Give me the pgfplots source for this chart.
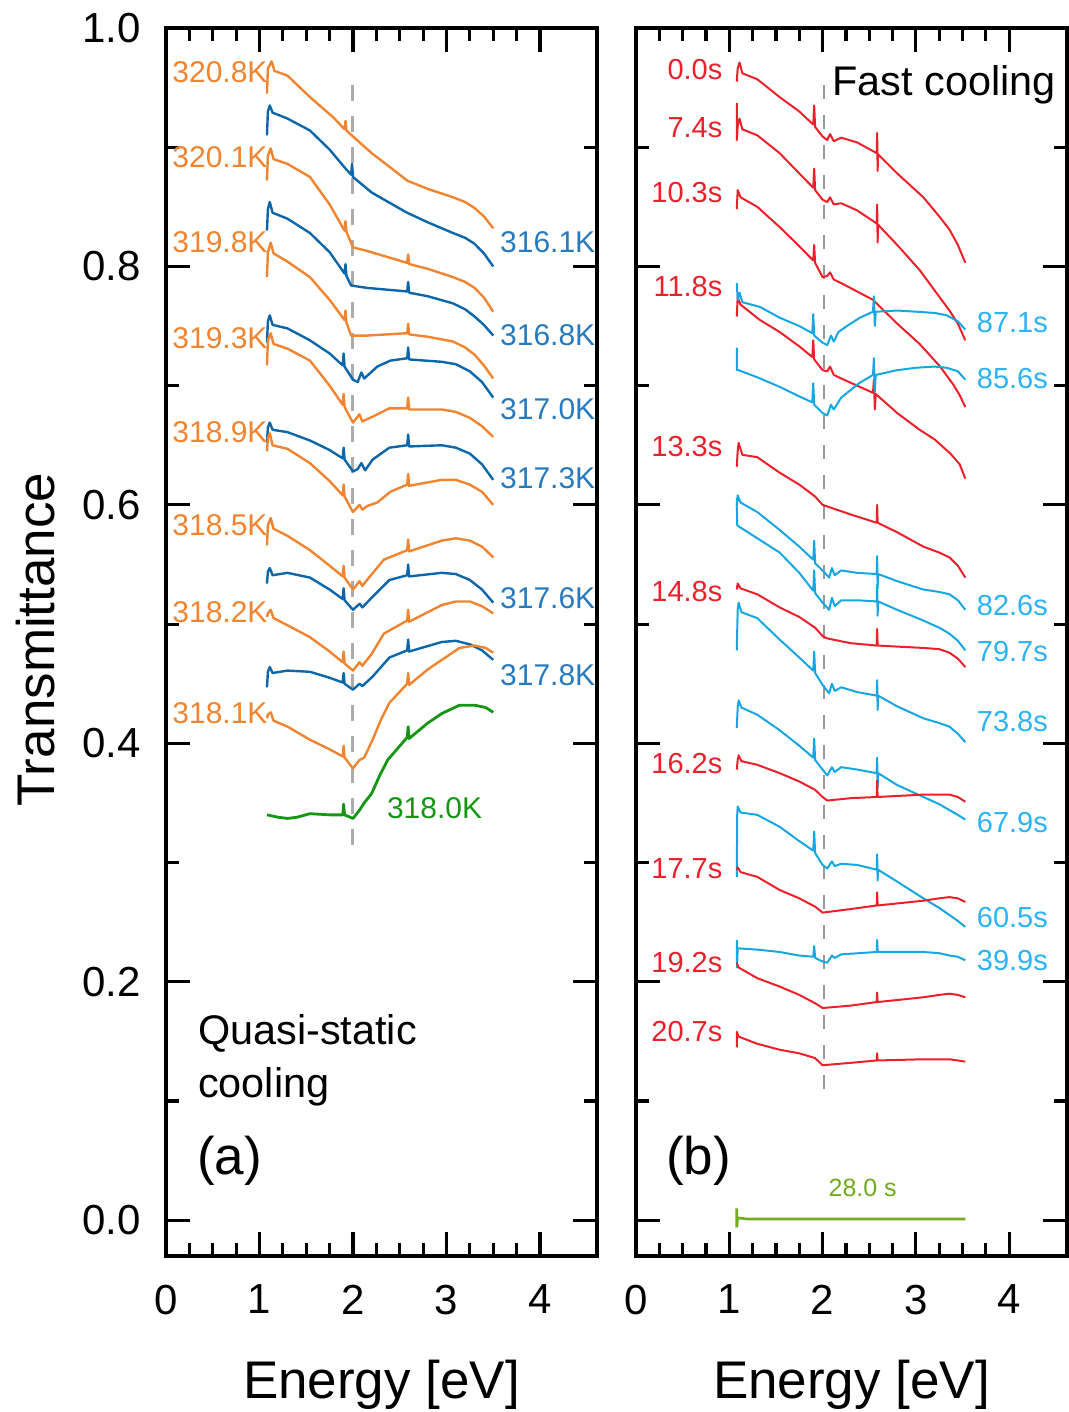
\documentclass[border=0pt]{standalone}
\usepackage{pgfplots}
\pgfplotsset{compat=1.18}
\usepackage{fontspec}
\setmainfont{Liberation Sans}
\definecolor{cO}{RGB}{240,132,48}
\definecolor{cB}{RGB}{12,102,170}
\definecolor{cBL}{RGB}{40,122,190}
\definecolor{cG}{RGB}{20,150,20}
\definecolor{cR}{RGB}{236,32,42}
\definecolor{cC}{RGB}{22,166,226}
\definecolor{cCL}{RGB}{45,178,245}
\definecolor{cGG}{RGB}{112,172,28}
\pgfplotsset{
  panel/.style={
    scale only axis, width=215.5pt, height=614pt,
    ymin=-0.03, ymax=1.0,
    xtick={0,1,2,3,4}, minor x tick num=3,
    ytick={0,0.2,0.4,0.6,0.8,1.0}, minor y tick num=1,
    tick align=inside, tick pos=both,
    major tick length=12pt, minor tick length=6.5pt,
    tick style={black, line width=1.6pt},
    axis line style={line width=1.8pt},
    ticklabel style={font=\fontsize{21}{25}\selectfont},
    /pgf/number format/assume math mode=true,
    yticklabel style={/pgf/number format/fixed, /pgf/number format/fixed zerofill, /pgf/number format/precision=1, xshift=-9pt},
    xticklabel style={yshift=-11pt},
    xlabel={Energy [eV]},
    every axis x label/.style={at={(axis description cs:0.5,-0.105)}, anchor=center, font=\fontsize{26.5}{30}\selectfont},
    clip=false,
  },
  lc/.style={line width=1.2pt, line join=round},
  rc/.style={line width=1.0pt, line join=round},
}
\begin{document}
\begin{tikzpicture}
\useasboundingbox (-83pt,-78pt) rectangle (451.5pt,628pt);
% ---------------- (a) ----------------
\begin{axis}[panel, at={(0pt,0pt)}, anchor=south west, xmin=0, xmax=4.61,
  ylabel={Transmittance},
  every axis y label/.style={at={(axis description cs:-0.303,0.502)}, anchor=center, rotate=90, font=\fontsize{26.5}{30}\selectfont}]
\addplot[gray!65, line width=1.5pt, dash pattern=on 8pt off 7.5pt] coordinates {(2.0,0.952) (2.0,0.312)};
% 320.8K
\addplot[cO, lc] coordinates {(1.08,0.945) (1.09,0.966) (1.13,0.972) (1.16,0.964) (1.3,0.960) (1.54,0.942) (1.79,0.925) (1.91,0.915) (1.92,0.922) (1.93,0.914) (2.0,0.909) (2.2,0.895) (2.4,0.883) (2.58,0.872) (2.8,0.865) (3.07,0.858) (3.2,0.854) (3.3,0.849) (3.4,0.842) (3.5,0.832)};
% 316.1K
\addplot[cB, lc] coordinates {(1.08,0.910) (1.09,0.930) (1.11,0.935) (1.14,0.929) (1.3,0.924) (1.54,0.914) (1.75,0.898) (1.91,0.883) (1.98,0.877) (1.99,0.886) (2.0,0.875) (2.2,0.862) (2.4,0.853) (2.58,0.845) (2.8,0.837) (3.07,0.828) (3.2,0.824) (3.3,0.819) (3.4,0.811) (3.5,0.800)};
% 320.1K
\addplot[cO, lc] coordinates {(1.08,0.872) (1.09,0.893) (1.12,0.899) (1.15,0.890) (1.3,0.886) (1.54,0.875) (1.75,0.852) (1.91,0.830) (1.92,0.838) (1.93,0.829) (2.0,0.816) (2.15,0.813) (2.58,0.803) (2.59,0.810) (2.6,0.802) (2.8,0.798) (3.07,0.791) (3.2,0.787) (3.3,0.782) (3.4,0.774) (3.5,0.762)};
% 316.8K
\addplot[cB, lc] coordinates {(1.08,0.830) (1.09,0.848) (1.11,0.854) (1.14,0.845) (1.3,0.840) (1.54,0.828) (1.75,0.812) (1.91,0.794) (1.92,0.802) (1.93,0.792) (1.98,0.784) (2.15,0.782) (2.58,0.779) (2.59,0.787) (2.6,0.778) (2.8,0.775) (3.07,0.769) (3.2,0.764) (3.3,0.758) (3.4,0.751) (3.5,0.742)};
% 319.8K
\addplot[cO, lc] coordinates {(1.08,0.791) (1.09,0.812) (1.12,0.820) (1.15,0.811) (1.3,0.804) (1.54,0.791) (1.75,0.772) (1.91,0.755) (1.92,0.763) (1.93,0.753) (1.98,0.742) (2.15,0.742) (2.58,0.744) (2.59,0.752) (2.6,0.743) (2.8,0.741) (3.07,0.737) (3.2,0.732) (3.3,0.726) (3.4,0.717) (3.5,0.706)};
% 317.0K
\addplot[cB, lc] coordinates {(1.08,0.736) (1.09,0.754) (1.11,0.759) (1.14,0.751) (1.3,0.748) (1.54,0.738) (1.75,0.727) (1.89,0.717) (1.9,0.727) (1.91,0.716) (2.0,0.705) (2.05,0.703) (2.09,0.711) (2.12,0.706) (2.26,0.716) (2.4,0.721) (2.58,0.723) (2.59,0.732) (2.6,0.722) (2.95,0.720) (3.1,0.718) (3.25,0.712) (3.38,0.703) (3.5,0.690)};
% 319.3K
\addplot[cO, lc] coordinates {(1.08,0.717) (1.09,0.738) (1.12,0.744) (1.15,0.735) (1.3,0.731) (1.54,0.721) (1.75,0.700) (1.89,0.684) (1.9,0.693) (1.91,0.682) (2.0,0.669) (2.07,0.676) (2.1,0.670) (2.21,0.674) (2.39,0.681) (2.58,0.681) (2.59,0.690) (2.6,0.680) (2.95,0.680) (3.1,0.678) (3.25,0.673) (3.38,0.666) (3.5,0.657)};
% 317.3K
\addplot[cB, lc] coordinates {(1.08,0.652) (1.09,0.665) (1.11,0.669) (1.14,0.663) (1.3,0.661) (1.54,0.654) (1.75,0.646) (1.89,0.639) (1.9,0.648) (1.91,0.638) (2.0,0.628) (2.05,0.630) (2.09,0.635) (2.13,0.629) (2.21,0.638) (2.39,0.648) (2.58,0.650) (2.59,0.659) (2.6,0.649) (2.95,0.650) (3.1,0.648) (3.25,0.643) (3.38,0.634) (3.5,0.621)};
% 318.9K
\addplot[cO, lc] coordinates {(1.08,0.645) (1.09,0.656) (1.11,0.660) (1.14,0.650) (1.3,0.647) (1.54,0.635) (1.75,0.620) (1.89,0.608) (1.9,0.617) (1.91,0.607) (2.0,0.594) (2.07,0.600) (2.1,0.596) (2.15,0.599) (2.26,0.602) (2.4,0.611) (2.58,0.617) (2.59,0.626) (2.6,0.616) (2.95,0.621) (3.1,0.621) (3.25,0.617) (3.38,0.611) (3.5,0.600)};
% 318.5K
\addplot[cO, lc] coordinates {(1.08,0.566) (1.09,0.583) (1.12,0.589) (1.15,0.580) (1.3,0.574) (1.54,0.562) (1.75,0.549) (1.89,0.540) (1.9,0.549) (1.91,0.539) (2.0,0.529) (2.07,0.536) (2.1,0.532) (2.15,0.537) (2.33,0.554) (2.58,0.562) (2.59,0.571) (2.6,0.561) (2.95,0.570) (3.1,0.572) (3.25,0.570) (3.38,0.565) (3.5,0.556)};
% 317.6K
\addplot[cB, lc] coordinates {(1.08,0.534) (1.09,0.544) (1.11,0.547) (1.14,0.541) (1.3,0.543) (1.54,0.539) (1.75,0.529) (1.89,0.521) (1.9,0.530) (1.91,0.520) (2.0,0.512) (2.07,0.517) (2.1,0.514) (2.21,0.523) (2.39,0.537) (2.58,0.541) (2.59,0.550) (2.6,0.540) (2.95,0.543) (3.1,0.542) (3.25,0.537) (3.38,0.529) (3.5,0.518)};
% 318.2K
\addplot[cO, lc] coordinates {(1.08,0.506) (1.09,0.509) (1.12,0.512) (1.15,0.505) (1.3,0.499) (1.54,0.489) (1.75,0.477) (1.89,0.468) (1.9,0.477) (1.91,0.467) (2.0,0.461) (2.07,0.468) (2.1,0.465) (2.2,0.475) (2.33,0.492) (2.58,0.503) (2.59,0.512) (2.6,0.502) (2.95,0.516) (3.1,0.519) (3.25,0.519) (3.38,0.515) (3.5,0.509)};
% 317.8K
\addplot[cB, lc] coordinates {(1.08,0.447) (1.09,0.460) (1.11,0.464) (1.14,0.459) (1.3,0.461) (1.54,0.460) (1.75,0.455) (1.89,0.451) (1.9,0.459) (1.91,0.450) (2.0,0.445) (2.07,0.450) (2.1,0.448) (2.21,0.456) (2.39,0.472) (2.58,0.478) (2.59,0.487) (2.6,0.477) (2.95,0.485) (3.1,0.486) (3.25,0.483) (3.38,0.478) (3.5,0.470)};
% 318.1K
\addplot[cO, lc] coordinates {(1.08,0.421) (1.09,0.424) (1.12,0.426) (1.15,0.419) (1.3,0.414) (1.54,0.403) (1.75,0.395) (1.89,0.389) (1.9,0.398) (1.91,0.388) (2.0,0.379) (2.07,0.386) (2.12,0.388) (2.21,0.403) (2.3,0.420) (2.39,0.434) (2.58,0.450) (2.59,0.459) (2.6,0.449) (2.8,0.462) (2.95,0.470) (3.14,0.480) (3.3,0.482) (3.42,0.480) (3.5,0.476)};
% 318.0K
\addplot[cG, lc, line width=1.4pt] coordinates {(1.08,0.340) (1.2,0.338) (1.3,0.337) (1.4,0.338) (1.54,0.341) (1.75,0.340) (1.89,0.340) (1.9,0.349) (1.91,0.340) (2.0,0.337) (2.07,0.344) (2.12,0.350) (2.2,0.358) (2.28,0.372) (2.37,0.386) (2.58,0.405) (2.59,0.414) (2.6,0.404) (2.8,0.417) (2.95,0.425) (3.14,0.432) (3.3,0.432) (3.42,0.430) (3.5,0.426)};
% labels
\begin{scope}[every node/.style={inner sep=0pt, font=\fontsize{15}{18}\selectfont}]
\node[cO, anchor=east] at (axis cs:1.09,0.963) {320.8K};
\node[cO, anchor=east] at (axis cs:1.09,0.892) {320.1K};
\node[cO, anchor=east] at (axis cs:1.09,0.820) {319.8K};
\node[cO, anchor=east] at (axis cs:1.09,0.740) {319.3K};
\node[cO, anchor=east] at (axis cs:1.09,0.661) {318.9K};
\node[cO, anchor=east] at (axis cs:1.09,0.583) {318.5K};
\node[cO, anchor=east] at (axis cs:1.09,0.510) {318.2K};
\node[cO, anchor=east] at (axis cs:1.09,0.425) {318.1K};
\node[cBL, anchor=west] at (axis cs:3.57,0.820) {316.1K};
\node[cBL, anchor=west] at (axis cs:3.57,0.742) {316.8K};
\node[cBL, anchor=west] at (axis cs:3.57,0.680) {317.0K};
\node[cBL, anchor=west] at (axis cs:3.57,0.622) {317.3K};
\node[cBL, anchor=west] at (axis cs:3.57,0.522) {317.6K};
\node[cBL, anchor=west] at (axis cs:3.57,0.457) {317.8K};
\node[cG, anchor=west] at (axis cs:2.36,0.346) {318.0K};
\end{scope}
\node[anchor=base west, inner sep=0pt, font=\fontsize{20.7}{24}\selectfont] at (axis cs:0.34,0.147) {Quasi-static};
\node[anchor=base west, inner sep=0pt, font=\fontsize{20.7}{24}\selectfont] at (axis cs:0.34,0.103) {cooling};
\node[anchor=west, inner sep=0pt, font=\fontsize{26.5}{30}\selectfont] at (axis cs:0.33,0.050) {(a)};
\end{axis}
% ---------------- (b) ----------------
\begin{axis}[panel, at={(235pt,0pt)}, anchor=south west, xmin=0, xmax=4.62, yticklabels={}]
\addplot[gray!80, line width=1pt, dash pattern=on 7pt off 8pt] coordinates {(2.01,0.952) (2.01,0.105)};
% 0.0s
\addplot[cR, rc] coordinates {(1.08,0.955) (1.09,0.966) (1.11,0.971) (1.14,0.962) (1.3,0.957) (1.54,0.942) (1.75,0.930) (1.9,0.919) (1.91,0.935) (1.92,0.917) (2.0,0.909) (2.05,0.906) (2.08,0.911) (2.12,0.905) (2.2,0.908) (2.37,0.904) (2.58,0.895) (2.585,0.912) (2.59,0.880) (2.595,0.894) (2.8,0.878) (3.08,0.858) (3.25,0.842) (3.36,0.831) (3.45,0.818) (3.53,0.803)};
% 7.4s
\addplot[cR, rc] coordinates {(1.08,0.937) (1.08,0.906) (1.09,0.918) (1.11,0.924) (1.14,0.915) (1.3,0.910) (1.54,0.895) (1.75,0.878) (1.9,0.866) (1.91,0.882) (1.92,0.864) (2.0,0.856) (2.05,0.854) (2.08,0.858) (2.12,0.852) (2.2,0.853) (2.37,0.847) (2.58,0.836) (2.585,0.852) (2.59,0.820) (2.595,0.835) (2.8,0.818) (3.04,0.797) (3.2,0.780) (3.36,0.763) (3.45,0.752) (3.53,0.738)};
% 10.3s
\addplot[cR, rc] coordinates {(1.08,0.848) (1.09,0.864) (1.12,0.858) (1.3,0.850) (1.54,0.833) (1.75,0.817) (1.9,0.805) (1.91,0.818) (1.92,0.803) (2.0,0.791) (2.05,0.792) (2.08,0.795) (2.12,0.789) (2.2,0.786) (2.54,0.772) (2.8,0.752) (3.04,0.735) (3.26,0.716) (3.4,0.701) (3.47,0.692) (3.53,0.682)};
% 11.8s
\addplot[cR, rc] coordinates {(1.08,0.758) (1.09,0.774) (1.12,0.768) (1.33,0.755) (1.54,0.745) (1.75,0.733) (1.89,0.724) (1.9,0.738) (1.91,0.722) (2.0,0.713) (2.05,0.712) (2.08,0.716) (2.12,0.709) (2.2,0.706) (2.54,0.694) (2.55,0.705) (2.56,0.680) (2.57,0.693) (2.8,0.677) (3.04,0.663) (3.2,0.655) (3.37,0.643) (3.47,0.634) (3.53,0.622)};
% 87.1s
\addplot[cC, rc] coordinates {(1.08,0.786) (1.09,0.772) (1.11,0.778) (1.14,0.770) (1.33,0.766) (1.54,0.757) (1.75,0.750) (1.89,0.744) (1.9,0.760) (1.91,0.742) (2.0,0.736) (2.05,0.734) (2.09,0.742) (2.12,0.737) (2.17,0.745) (2.26,0.750) (2.4,0.757) (2.54,0.762) (2.55,0.775) (2.56,0.750) (2.57,0.762) (2.8,0.763) (3.01,0.762) (3.2,0.761) (3.33,0.759) (3.45,0.754) (3.53,0.747)};
% 85.6s
\addplot[cC, rc] coordinates {(1.08,0.732) (1.08,0.713) (1.1,0.713) (1.3,0.707) (1.54,0.699) (1.75,0.691) (1.89,0.686) (1.9,0.702) (1.91,0.684) (2.0,0.677) (2.05,0.675) (2.09,0.684) (2.12,0.680) (2.2,0.690) (2.39,0.702) (2.54,0.709) (2.55,0.723) (2.56,0.695) (2.57,0.709) (2.8,0.713) (3.0,0.715) (3.2,0.716) (3.33,0.715) (3.45,0.712) (3.53,0.705)};
% 13.3s
\addplot[cR, rc] coordinates {(1.08,0.632) (1.09,0.645) (1.1,0.652) (1.14,0.642) (1.3,0.640) (1.54,0.627) (1.75,0.617) (1.92,0.607) (2.0,0.600) (2.3,0.592) (2.58,0.585) (2.585,0.600) (2.59,0.585) (2.8,0.577) (3.08,0.565) (3.25,0.560) (3.36,0.556) (3.45,0.549) (3.53,0.539)};
% 82.6s
\addplot[cC, rc] coordinates {(1.08,0.598) (1.09,0.608) (1.12,0.602) (1.3,0.594) (1.54,0.579) (1.75,0.565) (1.9,0.554) (1.91,0.570) (1.92,0.551) (2.0,0.545) (2.07,0.539) (2.1,0.547) (2.13,0.541) (2.2,0.545) (2.37,0.543) (2.58,0.542) (2.585,0.557) (2.59,0.530) (2.595,0.542) (2.8,0.536) (3.08,0.529) (3.25,0.527) (3.36,0.525) (3.45,0.520) (3.53,0.512)};
% 79.7s
\addplot[cC, rc] coordinates {(1.08,0.606) (1.085,0.583) (1.1,0.582) (1.3,0.572) (1.54,0.560) (1.75,0.543) (1.9,0.528) (1.91,0.545) (1.92,0.526) (2.0,0.518) (2.07,0.512) (2.1,0.522) (2.13,0.515) (2.2,0.520) (2.37,0.520) (2.58,0.519) (2.585,0.533) (2.59,0.507) (2.595,0.519) (2.8,0.512) (3.08,0.503) (3.25,0.497) (3.36,0.492) (3.45,0.486) (3.53,0.478)};
% 14.8s
\addplot[cR, rc] coordinates {(1.08,0.529) (1.09,0.534) (1.12,0.530) (1.3,0.525) (1.54,0.514) (1.75,0.506) (1.92,0.497) (2.0,0.490) (2.05,0.488) (2.3,0.484) (2.58,0.482) (2.585,0.496) (2.59,0.482) (3.08,0.480) (3.25,0.479) (3.36,0.476) (3.45,0.471) (3.53,0.464)};
% 73.8s
\addplot[cC, rc] coordinates {(1.08,0.478) (1.09,0.512) (1.1,0.518) (1.13,0.510) (1.3,0.505) (1.54,0.487) (1.75,0.472) (1.9,0.461) (1.91,0.477) (1.92,0.459) (2.0,0.449) (2.07,0.442) (2.1,0.450) (2.13,0.444) (2.2,0.447) (2.37,0.443) (2.58,0.440) (2.585,0.453) (2.59,0.428) (2.595,0.440) (2.8,0.431) (3.08,0.421) (3.25,0.417) (3.36,0.414) (3.45,0.408) (3.53,0.401)};
% 67.9s
\addplot[cC, rc] coordinates {(1.08,0.413) (1.09,0.430) (1.1,0.436) (1.13,0.430) (1.3,0.424) (1.54,0.411) (1.75,0.398) (1.9,0.388) (1.91,0.404) (1.92,0.386) (2.0,0.378) (2.05,0.373) (2.1,0.380) (2.13,0.376) (2.2,0.380) (2.37,0.378) (2.58,0.375) (2.585,0.388) (2.59,0.363) (2.595,0.375) (2.8,0.365) (3.08,0.355) (3.25,0.349) (3.36,0.344) (3.45,0.340) (3.53,0.336)};
% 16.2s
\addplot[cR, rc] coordinates {(1.08,0.378) (1.09,0.386) (1.1,0.390) (1.13,0.385) (1.3,0.382) (1.54,0.375) (1.75,0.368) (1.92,0.361) (2.0,0.355) (2.05,0.352) (2.3,0.354) (2.58,0.355) (2.585,0.369) (2.59,0.355) (3.08,0.357) (3.25,0.357) (3.36,0.357) (3.45,0.355) (3.53,0.351)};
% 60.5s
\addplot[cC, rc] coordinates {(1.08,0.288) (1.085,0.340) (1.09,0.347) (1.12,0.342) (1.3,0.340) (1.54,0.330) (1.75,0.318) (1.9,0.310) (1.91,0.326) (1.92,0.308) (2.0,0.298) (2.05,0.295) (2.1,0.301) (2.13,0.297) (2.2,0.299) (2.37,0.298) (2.58,0.294) (2.585,0.307) (2.59,0.285) (2.595,0.294) (2.8,0.284) (3.08,0.270) (3.25,0.262) (3.36,0.256) (3.45,0.251) (3.53,0.246)};
% 17.7s
\addplot[cR, rc] coordinates {(1.08,0.294) (1.09,0.296) (1.12,0.292) (1.3,0.288) (1.54,0.277) (1.75,0.270) (1.92,0.263) (2.0,0.258) (2.3,0.261) (2.58,0.264) (2.585,0.275) (2.59,0.264) (3.08,0.268) (3.25,0.270) (3.36,0.271) (3.45,0.270) (3.53,0.267)};
% 39.9s
\addplot[cC, rc] coordinates {(1.08,0.235) (1.083,0.212) (1.09,0.228) (1.1,0.228) (1.3,0.227) (1.54,0.225) (1.75,0.222) (1.9,0.221) (1.91,0.230) (1.92,0.220) (2.0,0.217) (2.05,0.216) (2.1,0.222) (2.13,0.220) (2.2,0.223) (2.58,0.225) (2.585,0.235) (2.59,0.225) (3.08,0.225) (3.25,0.224) (3.36,0.222) (3.45,0.221) (3.53,0.218)};
% 19.2s
\addplot[cR, rc] coordinates {(1.08,0.216) (1.1,0.212) (1.3,0.203) (1.54,0.196) (1.75,0.189) (1.92,0.182) (2.0,0.178) (2.3,0.180) (2.58,0.183) (2.585,0.191) (2.59,0.183) (3.08,0.187) (3.25,0.189) (3.36,0.190) (3.45,0.189) (3.53,0.187)};
% 20.7s
\addplot[cR, rc] coordinates {(1.08,0.145) (1.08,0.158) (1.1,0.154) (1.3,0.148) (1.54,0.143) (1.75,0.140) (1.92,0.136) (2.0,0.130) (2.3,0.132) (2.58,0.134) (2.585,0.140) (2.59,0.134) (3.08,0.135) (3.25,0.135) (3.36,0.135) (3.45,0.134) (3.53,0.133)};
% 28.0s
\addplot[cGG, line width=1.3pt] coordinates {(1.08,0.010) (1.08,-0.006) (1.09,0.002) (1.2,0.001) (3.53,0.001)};
\begin{scope}[every node/.style={inner sep=0pt, font=\fontsize{14.5}{17}\selectfont}]
\node[cR, anchor=east] at (axis cs:0.93,0.965) {0.0s};
\node[cR, anchor=east] at (axis cs:0.93,0.916) {7.4s};
\node[cR, anchor=east] at (axis cs:0.93,0.862) {10.3s};
\node[cR, anchor=east] at (axis cs:0.93,0.783) {11.8s};
\node[cR, anchor=east] at (axis cs:0.93,0.649) {13.3s};
\node[cR, anchor=east] at (axis cs:0.93,0.527) {14.8s};
\node[cR, anchor=east] at (axis cs:0.93,0.383) {16.2s};
\node[cR, anchor=east] at (axis cs:0.93,0.295) {17.7s};
\node[cR, anchor=east] at (axis cs:0.93,0.216) {19.2s};
\node[cR, anchor=east] at (axis cs:0.93,0.158) {20.7s};
\node[cCL, anchor=west] at (axis cs:3.65,0.753) {87.1s};
\node[cCL, anchor=west] at (axis cs:3.65,0.706) {85.6s};
\node[cCL, anchor=west] at (axis cs:3.65,0.516) {82.6s};
\node[cCL, anchor=west] at (axis cs:3.65,0.477) {79.7s};
\node[cCL, anchor=west] at (axis cs:3.65,0.418) {73.8s};
\node[cCL, anchor=west] at (axis cs:3.65,0.334) {67.9s};
\node[cCL, anchor=west] at (axis cs:3.65,0.254) {60.5s};
\node[cCL, anchor=west] at (axis cs:3.65,0.218) {39.9s};
\end{scope}
\node[cGG, inner sep=0pt, font=\fontsize{12.5}{15}\selectfont] at (axis cs:2.43,0.027) {28.0 s};
\node[anchor=west, inner sep=0pt, font=\fontsize{20.7}{24}\selectfont] at (axis cs:2.10,0.952) {Fast cooling};
\node[anchor=west, inner sep=0pt, font=\fontsize{26.5}{30}\selectfont] at (axis cs:0.32,0.050) {(b)};
\end{axis}
\end{tikzpicture}
\end{document}
